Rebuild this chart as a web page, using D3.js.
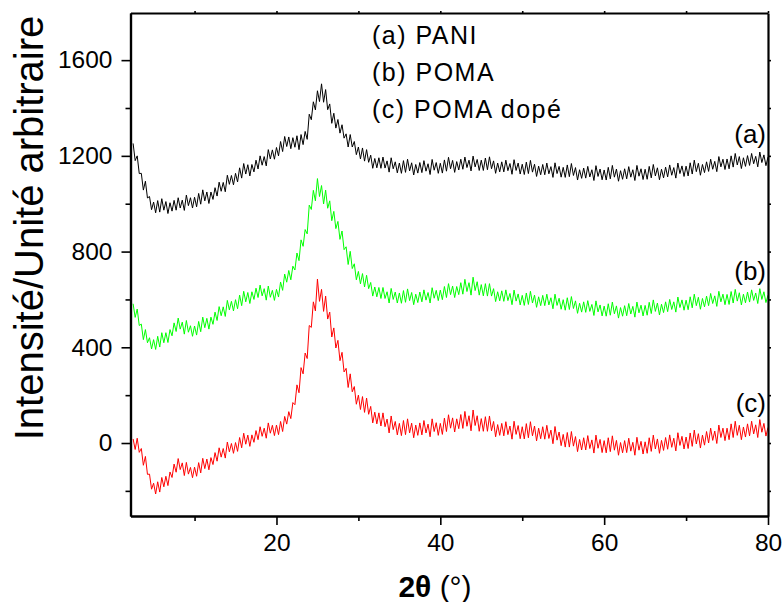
<!DOCTYPE html>
<html>
<head>
<meta charset="utf-8">
<script src="https://cdn.jsdelivr.net/npm/d3@7"></script>
<style>
  body { margin: 0; background: #fff; }
  text { font-family: "Liberation Sans", Arial, sans-serif; fill: #000; }
</style>
</head>
<body>
<div id="chart"></div>
<script>
// 2θ grid: one reading every 0.25°, from 2.5° to 80°
const thetaStart = 2.5;
const thetaStep = 0.25;

// (a) PANI
const pani = [
  1252, 1180, 1200, 1126, 1127, 1057, 1094, 1024, 1030, 975,
  1007, 962, 1013, 965, 1021, 973, 1009, 959, 1004, 969,
  1014, 973, 1025, 982, 1015, 972, 1036, 992, 1025, 982,
  1027, 987, 1043, 998, 1058, 1012, 1049, 1001, 1049, 1018,
  1067, 1032, 1090, 1052, 1089, 1050, 1119, 1081, 1118, 1079,
  1127, 1091, 1150, 1107, 1168, 1124, 1163, 1116, 1164, 1133,
  1182, 1145, 1200, 1161, 1197, 1158, 1226, 1187, 1225, 1186,
  1235, 1200, 1260, 1218, 1281, 1239, 1279, 1230, 1276, 1236,
  1284, 1226, 1289, 1247, 1302, 1269, 1374, 1351, 1426, 1392,
  1472, 1427, 1501, 1424, 1477, 1393, 1417, 1336, 1378, 1316,
  1352, 1295, 1330, 1274, 1292, 1237, 1289, 1237, 1260, 1205,
  1237, 1187, 1233, 1178, 1226, 1173, 1203, 1148, 1189, 1150,
  1192, 1148, 1195, 1149, 1179, 1132, 1192, 1146, 1175, 1129,
  1170, 1127, 1180, 1131, 1186, 1137, 1171, 1120, 1164, 1128,
  1172, 1130, 1180, 1136, 1167, 1122, 1185, 1140, 1172, 1127,
  1169, 1128, 1183, 1136, 1194, 1146, 1181, 1131, 1176, 1141,
  1186, 1144, 1195, 1151, 1182, 1137, 1199, 1154, 1185, 1139,
  1182, 1139, 1191, 1142, 1196, 1146, 1179, 1127, 1170, 1133,
  1175, 1133, 1182, 1138, 1168, 1123, 1184, 1139, 1170, 1124,
  1165, 1122, 1174, 1126, 1181, 1132, 1165, 1114, 1157, 1121,
  1164, 1121, 1170, 1125, 1155, 1110, 1171, 1126, 1156, 1111,
  1152, 1110, 1162, 1113, 1168, 1118, 1151, 1099, 1142, 1106,
  1149, 1107, 1156, 1112, 1142, 1097, 1159, 1114, 1145, 1100,
  1141, 1099, 1152, 1104, 1160, 1111, 1145, 1094, 1138, 1102,
  1146, 1104, 1155, 1111, 1142, 1097, 1160, 1115, 1146, 1101,
  1144, 1102, 1156, 1108, 1164, 1116, 1150, 1100, 1144, 1108,
  1153, 1112, 1162, 1119, 1151, 1107, 1170, 1126, 1158, 1114,
  1157, 1116, 1171, 1124, 1182, 1134, 1169, 1119, 1164, 1130,
  1175, 1135, 1186, 1144, 1177, 1134, 1197, 1154, 1186, 1143,
  1187, 1146, 1200, 1153, 1210, 1162, 1197, 1147, 1192, 1156,
  1201, 1160, 1210, 1167, 1198, 1154, 1216, 1172, 1204, 1159,
  1195
];

// (b) POMA
const poma = [
  582, 525, 560, 491, 497, 432, 474, 419, 440, 393,
  432, 391, 446, 401, 461, 419, 461, 420, 474, 448,
  502, 466, 522, 476, 505, 455, 512, 463, 490, 446,
  489, 451, 508, 465, 526, 482, 521, 476, 526, 496,
  547, 512, 570, 532, 569, 529, 596, 556, 592, 552,
  599, 561, 618, 574, 634, 590, 629, 583, 632, 600,
  647, 608, 660, 615, 645, 597, 656, 609, 638, 596,
  642, 610, 673, 638, 706, 672, 721, 682, 739, 723,
  794, 762, 849, 822, 892, 874, 994, 976, 1056, 1012,
  1105, 1030, 1076, 999, 1057, 981, 1012, 929, 968, 896,
  926, 851, 886, 808, 820, 746, 801, 729, 749, 682,
  717, 665, 708, 652, 701, 645, 671, 614, 652, 611,
  650, 604, 650, 604, 632, 585, 646, 600, 631, 585,
  627, 584, 637, 588, 644, 595, 629, 578, 622, 587,
  631, 590, 640, 597, 629, 585, 649, 605, 638, 595,
  639, 599, 654, 608, 666, 620, 656, 608, 654, 620,
  670, 622, 684, 633, 670, 618, 693, 637, 674, 618,
  662, 615, 666, 614, 666, 614, 645, 591, 632, 594,
  636, 592, 640, 595, 625, 578, 639, 593, 623, 577,
  617, 575, 627, 579, 634, 585, 618, 567, 611, 574,
  617, 574, 622, 577, 607, 561, 622, 575, 605, 559,
  599, 555, 607, 558, 612, 562, 594, 542, 584, 547,
  590, 546, 595, 550, 579, 533, 594, 548, 577, 531,
  572, 530, 582, 534, 589, 540, 573, 522, 566, 530,
  574, 532, 583, 539, 571, 526, 589, 544, 576, 531,
  575, 534, 588, 541, 598, 550, 585, 535, 580, 545,
  590, 549, 600, 558, 590, 547, 610, 566, 598, 555,
  597, 557, 611, 565, 622, 574, 609, 559, 604, 569,
  614, 574, 625, 583, 615, 571, 634, 590, 622, 578,
  621, 579, 633, 585, 642, 593, 628, 577, 622, 586,
  631, 589, 640, 596, 627, 583, 645, 600, 632, 587,
  618
];

// (c) POMA dopé
const pomaDope = [
  17, -27, 20, -39, -23, -93, -56, -131, -130, -193,
  -168, -213, -162, -205, -144, -183, -139, -178, -121, -144,
  -88, -122, -65, -111, -83, -136, -81, -130, -102, -145,
  -101, -139, -82, -125, -64, -107, -67, -112, -61, -90,
  -40, -76, -20, -59, -23, -63, 4, -37, -2, -43,
  2, -35, 23, -20, 41, -5, 33, -14, 34, 3,
  52, 14, 68, 28, 62, 20, 84, 41, 74, 31,
  75, 35, 90, 48, 111, 79, 131, 102, 169, 160,
  243, 210, 315, 289, 376, 353, 491, 483, 590, 552,
  685, 592, 642, 550, 614, 518, 547, 443, 481, 397,
  429, 344, 379, 297, 312, 232, 289, 214, 236, 162,
  200, 140, 194, 128, 188, 120, 153, 84, 129, 80,
  126, 71, 126, 68, 100, 42, 113, 56, 90, 34,
  82, 31, 94, 35, 101, 42, 83, 22, 75, 32,
  84, 34, 94, 42, 79, 26, 101, 48, 85, 32,
  82, 36, 104, 48, 118, 62, 105, 46, 101, 60,
  119, 61, 132, 70, 114, 51, 138, 73, 114, 49,
  102, 49, 110, 49, 113, 51, 90, 26, 77, 32,
  82, 30, 89, 35, 71, 16, 91, 36, 73, 18,
  68, 17, 81, 22, 89, 30, 71, 9, 62, 18,
  68, 16, 74, 19, 54, -3, 69, 12, 46, -11,
  36, -17, 44, -17, 48, -13, 27, -36, 15, -29,
  22, -29, 31, -23, 13, -42, 33, -22, 15, -40,
  10, -41, 22, -36, 30, -30, 11, -51, 2, -41,
  10, -40, 20, -34, 3, -51, 24, -30, 7, -46,
  5, -43, 22, -35, 33, -25, 17, -43, 11, -31,
  23, -26, 34, -18, 20, -33, 43, -10, 28, -25,
  25, -23, 42, -14, 54, -4, 39, -21, 33, -9,
  48, 0, 62, 11, 50, -2, 75, 23, 62, 10,
  62, 14, 80, 23, 91, 32, 74, 14, 67, 25,
  80, 30, 91, 38, 76, 23, 98, 45, 82, 29,
  65
];

const seriesNames = ["(a)", "(b)", "(c)"];
const seriesColors = ["#000000", "#00ff00", "#ff0000"];
const legendLines = ["(a) PANI", "(b) POMA", "(c) POMA dopé"];

const xMajorTicks = [20, 40, 60, 80];
const xMinorTicks = [10, 30, 50, 70];
const yMajorTicks = [0, 400, 800, 1200, 1600];
const yMinorTicks = [-200, 200, 600, 1000, 1400];

function createSVG(container, width, height) {
    d3.select(container).selectAll("*").remove();
    return d3.select(container)
        .append("svg")
        .attr("width", width)
        .attr("height", height);
}

function styleTickText(g, size) {
    g.selectAll("text")
        .attr("font-size", size)
        .style("font-family", "Liberation Sans, Arial, sans-serif");
}

function drawChart(container) {
    const width = 784;
    const height = 602;
    const svg = createSVG(container, width, height);

    const plot = {left: 130.5, right: 768, top: 13, bottom: 516};

    const x = d3.scaleLinear().domain([2.18, 80]).range([plot.left, plot.right]);
    const y = d3.scaleLinear().domain([-305, 1797]).range([plot.bottom, plot.top]);

    // clip the curves to the frame
    svg.append("defs").append("clipPath")
        .attr("id", "plot-clip")
        .append("rect")
        .attr("x", plot.left)
        .attr("y", plot.top)
        .attr("width", plot.right - plot.left)
        .attr("height", plot.bottom - plot.top);

    const line = d3.line()
        .x((d, i) => x(thetaStart + i * thetaStep))
        .y(d => y(d));

    const curves = svg.append("g").attr("clip-path", "url(#plot-clip)");
    [pani, poma, pomaDope].forEach((values, k) => {
        curves.append("path")
            .datum(values)
            .attr("d", line)
            .attr("fill", "none")
            .attr("stroke", seriesColors[k])
            .attr("stroke-width", 1);
    });

    // bottom axis
    const xAxis = svg.append("g")
        .attr("transform", `translate(0,${plot.bottom})`)
        .call(d3.axisBottom(x).tickValues(xMajorTicks).tickSize(9).tickPadding(9).tickSizeOuter(0));
    styleTickText(xAxis, 24.5);
    svg.append("g")
        .attr("transform", `translate(0,${plot.bottom})`)
        .call(d3.axisBottom(x).tickValues(xMinorTicks).tickSize(5).tickFormat("").tickSizeOuter(0));

    // left axis
    const yAxis = svg.append("g")
        .attr("transform", `translate(${plot.left},0)`)
        .call(d3.axisLeft(y).tickValues(yMajorTicks).tickFormat(d3.format("d"))
            .tickSize(9).tickPadding(9).tickSizeOuter(0));
    styleTickText(yAxis, 24.5);
    svg.append("g")
        .attr("transform", `translate(${plot.left},0)`)
        .call(d3.axisLeft(y).tickValues(yMinorTicks).tickSize(5).tickFormat("").tickSizeOuter(0));

    // top and right axes, small ticks only
    svg.append("g")
        .attr("transform", `translate(0,${plot.top})`)
        .call(d3.axisTop(x).tickValues(xMajorTicks.concat(xMinorTicks)).tickSize(2).tickFormat("").tickSizeOuter(0));
    svg.append("g")
        .attr("transform", `translate(${plot.right},0)`)
        .call(d3.axisRight(y).tickValues(yMajorTicks.concat(yMinorTicks)).tickSize(3).tickFormat("").tickSizeOuter(0));

    svg.selectAll(".domain").attr("stroke-width", 2.2);
    svg.selectAll(".tick line").attr("stroke-width", 1.6);

    // axis titles
    const xTitle = svg.append("text")
        .attr("x", 435)
        .attr("y", 597)
        .attr("text-anchor", "middle")
        .attr("font-size", 30);
    xTitle.append("tspan").attr("font-weight", "bold").text("2θ");
    xTitle.append("tspan").text(" (°)");

    svg.append("text")
        .attr("transform", "translate(43,228) rotate(-90)")
        .attr("text-anchor", "middle")
        .attr("font-size", 40)
        .text("Intensité/Unité arbitraire");

    // legend
    legendLines.forEach((t, i) => {
        svg.append("text")
            .attr("x", 372)
            .attr("y", 44 + i * 37)
            .attr("font-size", 25)
            .attr("letter-spacing", 1.5)
            .text(t);
    });

    // curve labels at right end
    const labelY = [143, 280, 412];
    seriesNames.forEach((t, i) => {
        svg.append("text")
            .attr("x", 766)
            .attr("y", labelY[i])
            .attr("text-anchor", "end")
            .attr("font-size", 26)
            .text(t);
    });
}

drawChart("#chart");
</script>
</body>
</html>
